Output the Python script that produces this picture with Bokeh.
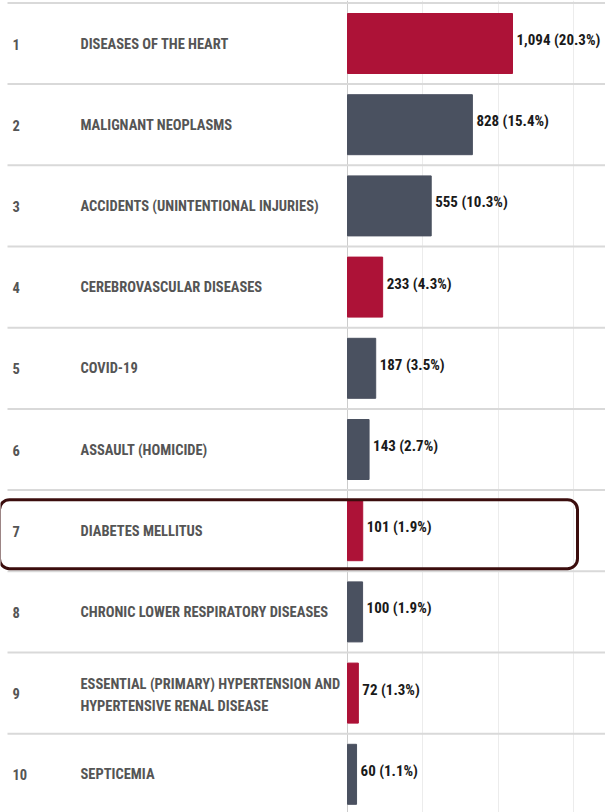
from bokeh.plotting import figure
from bokeh.models import Range1d, ColumnDataSource, Span, FixedTicker
from bokeh.core.properties import value
from bokeh.embed import file_html
from bokeh.resources import INLINE

# ---------------- data ----------------
ranks = ["1", "2", "3", "4", "5", "6", "7", "8", "9", "10"]
causes = [
    "DISEASES OF THE HEART",
    "MALIGNANT NEOPLASMS",
    "ACCIDENTS (UNINTENTIONAL INJURIES)",
    "CEREBROVASCULAR DISEASES",
    "COVID-19",
    "ASSAULT (HOMICIDE)",
    "DIABETES MELLITUS",
    "CHRONIC LOWER RESPIRATORY DISEASES",
    "ESSENTIAL (PRIMARY) HYPERTENSION AND\nHYPERTENSIVE RENAL DISEASE",
    "SEPTICEMIA",
]
deaths = [1094, 828, 555, 233, 187, 143, 101, 100, 72, 60]
shares = [20.3, 15.4, 10.3, 4.3, 3.5, 2.7, 1.9, 1.9, 1.3, 1.1]
groups = ["red", "gray", "gray", "red", "gray", "gray", "red", "gray", "red", "gray"]
grid_ticks = [500, 1000, 1500]
highlight_rank = 7

# ---------------- layout constants ----------------
W, H = 605, 812
AXIS_PX = 347.0          # page x of the zero line
SCALE = 165.0 / 1094.0   # px per death
ROW1_Y = 43.0            # page y of first row centre
ROW_H = 81.2             # px per row

def px2x(px):
    return (px - AXIS_PX) / SCALE

def py2r(py):
    return 1 + (py - ROW1_Y) / ROW_H

FONT = "'Roboto Condensed', 'Open Sans Condensed', 'DejaVu Sans Condensed', sans-serif"
RED = "#ad1237"
GRAY = "#4a5160"

rows = [int(r) for r in ranks]
colors = [RED if g == "red" else GRAY for g in groups]
labels = [f"{d:,} ({s:.1f}%)" for d, s in zip(deaths, shares)]
name_dy = [2.5 if "\n" in c else 0.5 for c in causes]

src = ColumnDataSource(dict(row=rows, rank=ranks, cause=causes, deaths=deaths,
                            label=labels, color=colors, name_dy=name_dy))

p = figure(width=W, height=H, output_backend="svg", toolbar_location=None,
           x_range=Range1d(px2x(0), px2x(W)),
           y_range=Range1d(py2r(H), py2r(0)),
           min_border=0, outline_line_color=None)
p.background_fill_color = "white"
p.border_fill_color = "white"
p.xaxis.visible = False
p.yaxis.visible = False
p.ygrid.visible = False
p.xaxis.ticker = FixedTicker(ticks=grid_ticks)
p.xgrid.grid_line_color = "#ececec"
p.xgrid.grid_line_width = 1

# row separators
bounds = [r - 0.5 for r in rows] + [rows[-1] + 0.5]
p.segment(x0=[px2x(7)] * len(bounds), x1=[px2x(W)] * len(bounds),
          y0=bounds, y1=bounds, line_color="#d9d9d9", line_width=2)

# zero line
p.add_layout(Span(location=0, dimension="height", line_color="#cccccc",
                  line_width=1, level="underlay"))

# bars
p.hbar(y="row", left=0, right="deaths", height=60 / ROW_H, color="color",
       source=src)

# value labels
p.text(x="deaths", y="row", text="label", source=src, x_offset=4, y_offset=-3.5,
       text_baseline="middle", text_align="left", text_font=value(FONT),
       text_font_style="bold", text_font_size="15px", text_color="#1a1a1a")

# rank and cause text
p.text(x=px2x(12), y="row", text="rank", source=src, text_baseline="middle",
       y_offset=0.5, text_font=value(FONT), text_font_style="bold",
       text_font_size="14.5px", text_color="#555555")
p.text(x=px2x(80), y="row", text="cause", source=src, text_baseline="middle",
       y_offset="name_dy", text_font=value(FONT), text_font_style="bold",
       text_font_size="14.5px", text_color="#555555", text_line_height=1.25)

# highlight box around one row
p.quad(left=px2x(-1), right=px2x(577),
       top=highlight_rank - 31 / ROW_H, bottom=highlight_rank + 38 / ROW_H,
       fill_color=None, line_color="#3b0d0d", line_width=3, border_radius=10)

open("out.html", "w").write(file_html(p, INLINE))
